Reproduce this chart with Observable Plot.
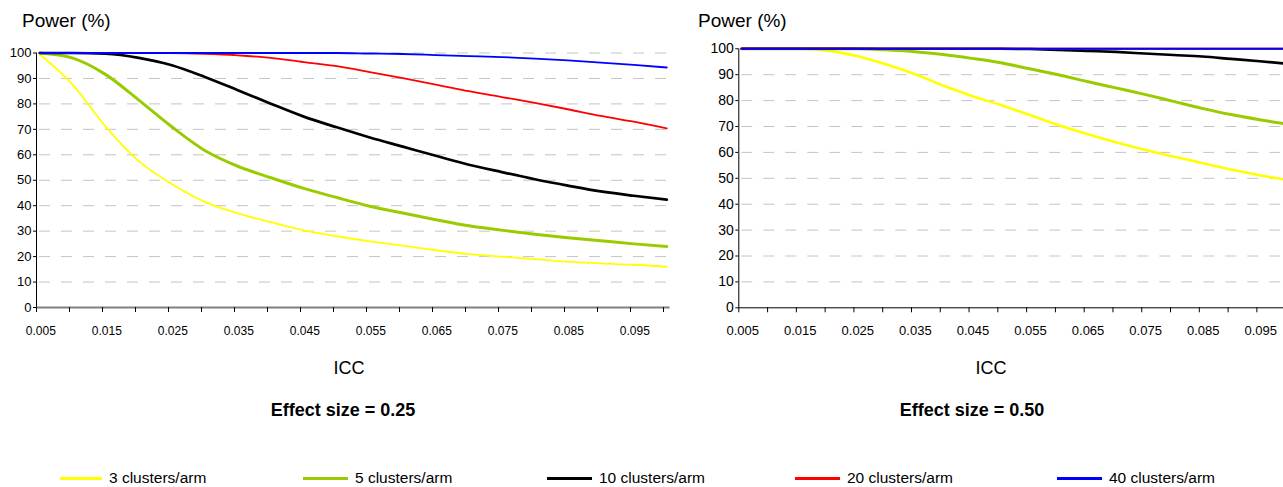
<!DOCTYPE html>
<html><head><meta charset="utf-8">
<script src="https://cdn.jsdelivr.net/npm/d3@7"></script>
<script src="https://cdn.jsdelivr.net/npm/@observablehq/plot@0.6"></script>
<style>
html,body{margin:0;padding:0;background:#fff;overflow:hidden;}
#root{position:relative;width:1283px;height:487px;overflow:hidden;font-family:"Liberation Sans",Arial,sans-serif;color:#000;background:#fff;}
.t{position:absolute;white-space:nowrap;line-height:1;}
.chart{position:absolute;top:0;}
.sw{position:absolute;height:3px;}
</style></head><body><div id="root"></div>
<script>
// ICC values (x)
const icc = [0.005,0.010,0.015,0.020,0.025,0.030,0.035,0.040,0.045,0.050,0.055,0.060,0.065,0.070,0.075,0.080,0.085,0.090,0.095,0.100];
const xLabels = [0.005,0.015,0.025,0.035,0.045,0.055,0.065,0.075,0.085,0.095];
const yTicks = [0,10,20,30,40,50,60,70,80,90,100];
const seriesNames = ["3 clusters/arm","5 clusters/arm","10 clusters/arm","20 clusters/arm","40 clusters/arm"];
const seriesColors = ["#FFFF00","#99CC00","#000000","#FF0000","#0000FF"];

// Effect size = 0.25 : power (%)
const es25_c3  = [99.5,87.5,71,57.5,48.5,41.5,37,33.5,30.3,28,26,24.3,22.5,21,20,19,18,17.3,16.8,16];
const es25_c5  = [100,98,91.5,81.5,71,61.7,55.5,51,46.8,43.2,39.8,37.1,34.5,32.1,30.4,28.8,27.4,26.2,25,24];
const es25_c10 = [100,100,99.7,98.1,95.2,90.6,85.4,80.1,75,70.8,66.8,63.2,59.6,56.1,53.2,50.4,47.9,45.6,43.9,42.4];
const es25_c20 = [100,100,100,100,100,99.7,99.1,98.1,96.4,94.8,92.5,90.1,87.6,85,82.7,80.4,77.9,75.3,73,70.4];
const es25_c40 = [100,100,100,100,100,100,100,100,100,100,99.8,99.6,99.2,98.8,98.4,97.8,97.1,96.2,95.3,94.3];

// Effect size = 0.50 : power (%)
const es50_c3  = [100,100,100,99.3,97.2,94,90.3,85.8,81.8,78.3,74.5,70.6,67.1,63.9,61,58.4,55.9,53.4,51.2,49.3];
const es50_c5  = [100,100,100,100,100,99.6,98.9,97.8,96.3,94.6,92.3,90,87.4,84.9,82.4,79.7,77,74.6,72.6,70.8];
const es50_c10 = [100,100,100,100,100,100,100,100,100,100,99.9,99.6,99.2,98.8,98.2,97.6,97,96.1,95.2,94.2];
const es50_c20 = [100,100,100,100,100,100,100,100,100,100,100,100,100,100,100,100,100,100,100,100];
const es50_c40 = [100,100,100,100,100,100,100,100,100,100,100,100,100,100,100,100,100,100,100,100];

const root = document.getElementById("root");
const X0 = 0.0045, X1 = 0.1005; // category axis bounds
const tickMarks = d3.range(20).map(k => X0 + k * 0.005);

function makeChart(cfg) {
  const marks = [];
  marks.push(Plot.ruleY(yTicks.filter(d => d > 0), {y: d => d, x1: X0, x2: X1, stroke: "#c4c4c4", strokeWidth: 1, strokeDasharray: "11,11", strokeDashoffset: -3}));
  cfg.series.forEach((arr, i) => {
    const data = icc.map((x, j) => ({x, y: arr[j]}));
    marks.push(Plot.line(data, {x: "x", y: "y", stroke: seriesColors[i], strokeWidth: cfg.widths[i], curve: "monotone-x"}));
  });
  marks.push(Plot.ruleX([X0], {y1: 0, y2: 100, stroke: "#000", strokeWidth: 1}));
  marks.push(Plot.ruleY([0], {x1: X0, x2: X1, stroke: cfg.axisColor, strokeWidth: cfg.axisWidth}));
  marks.push(Plot.axisY(yTicks, {anchor: "left", tickSize: 3, tickPadding: 2, fontSize: cfg.yFont, label: null, fill: "#000"}));
  marks.push(Plot.axisX(tickMarks, {anchor: "bottom", tickSize: 5, tickFormat: () => "", label: null}));
  marks.push(Plot.axisX(xLabels, {anchor: "bottom", tickSize: 0, tickPadding: cfg.xPad, tickFormat: d => d.toFixed(3), fontSize: cfg.xFont, label: null, fill: "#000", dx: 1}));
  const svg = Plot.plot({
    width: cfg.width, height: 340,
    marginLeft: cfg.ml, marginRight: cfg.mr, marginTop: cfg.mt, marginBottom: cfg.mb,
    x: {domain: [X0, X1]},
    y: {domain: [0, 100]},
    style: {overflow: "visible", maxWidth: "none", background: "transparent", fontFamily: "Liberation Sans, Arial, sans-serif", color: "#000"},
    marks
  });
  const div = document.createElement("div");
  div.className = "chart";
  div.style.left = cfg.left + "px";
  div.style.width = cfg.width + "px";
  div.appendChild(svg);
  root.appendChild(div);
}

makeChart({left: 0, width: 680, ml: 36, mr: 10.4, mt: 52.5, mb: 33,
  series: [es25_c3, es25_c5, es25_c10, es25_c20, es25_c40],
  widths: [1.8, 3, 2.7, 1.8, 1.8], yFont: 13, xFont: 12, xPad: 19,
  axisColor: "#808080", axisWidth: 2});

makeChart({left: 690, width: 610, ml: 48.3, mr: 9.1, mt: 48.3, mb: 32.7,
  series: [es50_c3, es50_c5, es50_c10, es50_c20, es50_c40],
  widths: [2.6, 3, 2.6, 2, 2], yFont: 14, xFont: 13, xPad: 18,
  axisColor: "#000", axisWidth: 1});

function text(str, x, cy, size, opts = {}) {
  const d = document.createElement("div");
  d.className = "t";
  d.textContent = str;
  d.style.fontSize = size + "px";
  d.style.top = (cy - 0.49 * size) + "px";
  if (opts.bold) d.style.fontWeight = "bold";
  if (opts.center) { d.style.left = x + "px"; d.style.transform = "translateX(-50%)"; }
  else d.style.left = x + "px";
  root.appendChild(d);
}

text("Power (%)", 22, 20, 19);
text("Power (%)", 698, 20, 19);
text("ICC", 349, 368, 18, {center: true});
text("ICC", 991, 368, 18, {center: true});
text("Effect size = 0.25", 343, 410, 18, {bold: true, center: true});
text("Effect size = 0.50", 972, 410, 18, {bold: true, center: true});

const legendLine = [[60, 102], [303, 348], [547, 592], [795, 840], [1057, 1102]];
seriesNames.forEach((name, i) => {
  const s = document.createElement("div");
  s.className = "sw";
  s.style.left = legendLine[i][0] + "px";
  s.style.width = (legendLine[i][1] - legendLine[i][0]) + "px";
  s.style.top = "477px";
  s.style.background = seriesColors[i];
  root.appendChild(s);
  text(name, legendLine[i][1] + 7, 478, 15.5);
});
</script>
</body></html>
